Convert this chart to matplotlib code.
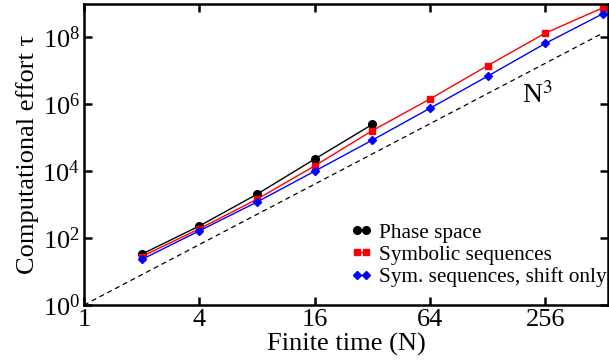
import matplotlib
matplotlib.use("Agg")
import matplotlib.pyplot as plt
import numpy as np

# polices type Times
plt.rcParams['font.family'] = ['Liberation Serif', 'DejaVu Serif']
plt.rcParams['mathtext.fontset'] = 'stix'

# Données
n_phase = [2, 4, 8, 16, 32]
tau_phase = [33, 230, 2050, 2.3e4, 2.5e5]

n_symb = [2, 4, 8, 16, 32, 64, 128, 256, 512]
tau_symb = [28, 190, 1450, 1.44e4, 1.63e5, 1.44e6, 1.43e7, 1.34e8, 7.7e8]

n_shift = [2, 4, 8, 16, 32, 64, 128, 256, 512]
tau_shift = [23, 165, 1200, 1.0e4, 8.5e4, 7.6e5, 6.9e6, 6.6e7, 5.1e8]

n_ref = [1, 512]
tau_ref = [1, 512 ** 3]

x_ticks = [1, 4, 16, 64, 256]
x_labels = ['1', '4', '16', '64', '256']
y_ticks = [1e0, 1e2, 1e4, 1e6, 1e8]

fig = plt.figure(figsize=(6.09, 3.62), dpi=100)
ax = fig.add_axes([84 / 609, 1 - 305 / 362, 524 / 609, 301 / 362])

ax.plot(n_phase, tau_phase, color='black', marker='o', markersize=5.5, lw=1,
        label='Phase space')
ax.plot(n_symb, tau_symb, color='red', marker='s', markersize=5, lw=1,
        label='Symbolic sequences')
ax.plot(n_shift, tau_shift, color='blue', marker='D', markersize=4, lw=1,
        label='Sym. sequences, shift only')
ax.plot(n_ref, tau_ref, color='black', ls=(0, (4, 3)), lw=0.9)

ax.text(193, 1.1e6, r'N$^3$', fontsize=20)

ax.set_xscale('log', base=2)
ax.set_yscale('log')
ax.set_xlim(1, 545)
ax.set_ylim(1, 1e9)
ax.set_xticks(x_ticks)
ax.set_xticklabels(x_labels)
ax.set_yticks(y_ticks)
ax.minorticks_off()

ax.tick_params(direction='in', length=6, width=1.8, labelsize=19,
               top=True, right=True, pad=3)
for s in ax.spines.values():
    s.set_linewidth(1.8)

ax.set_xlabel('Finite time (N)', fontsize=19, labelpad=1)
ax.set_ylabel('Computational effort τ', fontsize=19, labelpad=2)

ax.legend(loc='lower left', bbox_to_anchor=(0.508, 0.06), frameon=False,
          fontsize=15.3, numpoints=2, handlelength=1.05, handletextpad=0.3,
          labelspacing=0.1, borderpad=0, borderaxespad=0)

fig.savefig('out.png', dpi=100)
